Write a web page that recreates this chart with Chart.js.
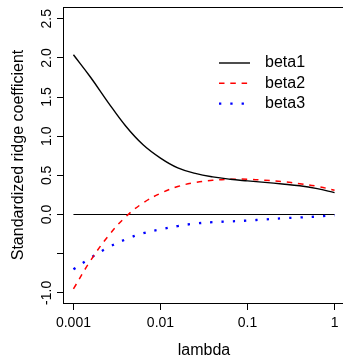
<!DOCTYPE html>
<html>
<head>
<meta charset="utf-8">
<script src="https://cdn.jsdelivr.net/npm/chart.js@4"></script>
<style>
  body { margin: 0; background: #fff; }
  #wrap { width: 343px; height: 357px; overflow: hidden; }
</style>
</head>
<body>
<div id="wrap"><canvas id="c" width="347" height="357"></canvas></div>
<script>
// values
const lambda = [0.001, 0.00158, 0.00251, 0.00398, 0.00631, 0.01, 0.0158, 0.0251, 0.0398, 0.0631, 0.1, 0.158, 0.251, 0.398, 0.631, 1]
const beta1 = [2.04, 1.75, 1.43, 1.13, 0.89, 0.72, 0.595, 0.525, 0.48, 0.45, 0.429, 0.41, 0.39, 0.367, 0.33, 0.28]
const beta2 = [-0.95, -0.585, -0.275, -0.03, 0.148, 0.27, 0.357, 0.409, 0.436, 0.449, 0.451, 0.438, 0.42, 0.393, 0.36, 0.31]
const beta3 = [-0.70, -0.553, -0.42, -0.317, -0.24, -0.19, -0.147, -0.116, -0.098, -0.088, -0.077, -0.063, -0.048, -0.038, -0.026, -0.009]
const seriesNames = ['beta1', 'beta2', 'beta3']
const xTicks = [0.001, 0.01, 0.1, 1]
const xTickLabels = ['0.001', '0.01', '0.1', '1']
const yTicks = [-1, -0.5, 0, 0.5, 1, 1.5, 2, 2.5]
const yHidden = [-0.5]   // R dropped this label

const FONT = 'Liberation Sans, Arial, Helvetica, sans-serif'

const toPts = arr => arr.map((v, i) => ({x: lambda[i], y: v}))

// box round the plot area + legend in the top right
const extras = {
    id: 'extras',
    afterDraw(chart) {
        const ctx = chart.ctx
        const a = chart.chartArea
        ctx.save()
        ctx.strokeStyle = '#000'
        ctx.lineWidth = 1
        ctx.strokeRect(a.left + 0.5, a.top + 0.5, a.right - a.left, a.bottom - a.top)

        // legend
        const x0 = 219, x1 = 250, tx = 265
        let y = 63
        chart.data.datasets.slice(0, 3).forEach(ds => {
            ctx.beginPath()
            ctx.strokeStyle = ds.borderColor
            ctx.lineWidth = ds.borderWidth
            ctx.setLineDash(ds.borderDash || [])
            ctx.moveTo(x0, y)
            ctx.lineTo(x1, y)
            ctx.stroke()
            ctx.setLineDash([])
            ctx.fillStyle = '#000'
            ctx.font = '16px ' + FONT
            ctx.textBaseline = 'middle'
            ctx.textAlign = 'left'
            ctx.fillText(ds.label, tx, y)
            y += 20.3
        })
        ctx.restore()
    }
}

const myChart = new Chart(document.getElementById('c'), {
    type: 'line',
    data: {
        datasets: [{
            label: seriesNames[0],
            data: toPts(beta1),
            borderColor: '#000',
            borderWidth: 1.4,
            pointRadius: 0,
            tension: 0.4
        }, {
            label: seriesNames[1],
            data: toPts(beta2),
            borderColor: '#ff0000',
            borderWidth: 1.5,
            borderDash: [5.5, 5.8],
            pointRadius: 0,
            tension: 0.4
        }, {
            label: seriesNames[2],
            data: toPts(beta3),
            borderColor: '#0000ff',
            borderWidth: 2.3,
            borderDash: [2.3, 9],
            pointRadius: 0,
            tension: 0.4
        }, {
            label: 'zero',
            data: [{x: lambda[0], y: 0}, {x: lambda[lambda.length - 1], y: 0}],
            borderColor: '#000',
            borderWidth: 1.2,
            pointRadius: 0
        }]
    },
    options: {
        responsive: false,
        animation: false,
        layout: {padding: {top: 7, right: 2, left: 0, bottom: 0}},
        plugins: {legend: {display: false}, tooltip: {enabled: false}},
        scales: {
            x: {
                type: 'logarithmic',
                min: Math.pow(10, -3.12),
                max: Math.pow(10, 0.12),
                afterBuildTicks: s => { s.ticks = xTicks.map(v => ({value: v})) },
                afterFit: s => { s.height = 54 },
                grid: {display: true, drawOnChartArea: false, drawTicks: true, tickLength: 7, color: '#000'},
                border: {display: true, color: '#000', width: 1},
                ticks: {
                    color: '#000',
                    font: {size: 14, family: FONT},
                    padding: 5,
                    maxRotation: 0,
                    autoSkip: false,
                    callback: (v) => xTickLabels[xTicks.indexOf(v)] ?? ''
                },
                title: {display: true, text: 'lambda', color: '#000', font: {size: 16, family: FONT, lineHeight: 0.85}, padding: {top: 0, bottom: 0}}
            },
            y: {
                type: 'linear',
                min: -1.13,
                max: 2.65,
                afterBuildTicks: s => { s.ticks = yTicks.map(v => ({value: v})) },
                afterFit: s => { s.width = 63 },
                grid: {display: true, drawOnChartArea: false, drawTicks: true, tickLength: 6, color: '#000'},
                border: {display: true, color: '#000', width: 1},
                ticks: {
                    color: '#000',
                    font: {size: 14, family: FONT},
                    minRotation: 90,
                    maxRotation: 90,
                    crossAlign: 'center',
                    padding: -2,
                    autoSkip: false,
                    callback: v => yHidden.includes(v) ? '' : v.toFixed(1)
                },
                title: {display: true, text: 'Standardized ridge coefficient', color: '#000', font: {size: 16, family: FONT}, padding: {top: 9, bottom: 0}}
            }
        }
    },
    plugins: [extras]
})
</script>
</body>
</html>
